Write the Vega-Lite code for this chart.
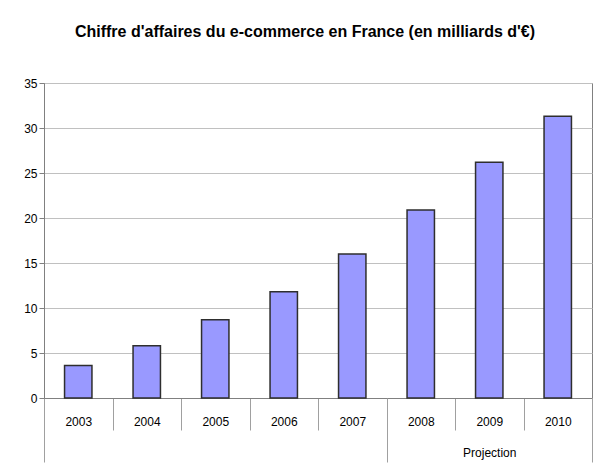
{
  "$schema": "https://vega.github.io/schema/vega-lite/v6.json",
  "autosize": "none",
  "width": 548,
  "height": 315,
  "padding": {"left": 44, "top": 83, "right": 1, "bottom": 76},
  "background": "white",
  "title": {
    "text": "Chiffre d'affaires du e-commerce en France (en milliards d'€)",
    "font": "Liberation Sans",
    "fontSize": 16,
    "fontWeight": "bold",
    "color": "black",
    "anchor": "middle",
    "dx": -13,
    "offset": 37
  },
  "config": {
    "view": {"stroke": "#808080", "strokeWidth": 1},
    "axis": {"labelFont": "Liberation Sans", "labelFontSize": 12, "labelColor": "black"}
  },
  "layer": [
    {
      "data": {"values": [
        {"annee": "2003", "ca": 3.6},
        {"annee": "2004", "ca": 5.8},
        {"annee": "2005", "ca": 8.7},
        {"annee": "2006", "ca": 11.8},
        {"annee": "2007", "ca": 16.0},
        {"annee": "2008", "ca": 20.9},
        {"annee": "2009", "ca": 26.2},
        {"annee": "2010", "ca": 31.3}
      ]},
      "mark": {"type": "bar", "fill": "#9999ff", "stroke": "#2e2e2e", "strokeWidth": 1.5, "width": {"band": 0.4}},
      "encoding": {
        "x": {
          "field": "annee", "type": "ordinal",
          "scale": {"paddingInner": 0, "paddingOuter": 0},
          "axis": {
            "title": null, "labelAngle": 0, "tickBand": "extent",
            "tickSize": 32, "tickColor": "#a0a0a0", "domainColor": "#808080",
            "labelPadding": -14
          }
        },
        "y": {
          "field": "ca", "type": "quantitative",
          "scale": {"domain": [0, 35]},
          "axis": {
            "title": null, "values": [0, 5, 10, 15, 20, 25, 30, 35],
            "tickSize": 5, "tickColor": "#808080", "domainColor": "#808080",
            "gridColor": "#c0c0c0", "labelPadding": 2
          }
        }
      }
    },
    {
      "data": {"values": [
        {"periode": "", "debut": 0, "fin": 5},
        {"periode": "Projection", "debut": 5, "fin": 8}
      ]},
      "mark": {"type": "rect", "opacity": 0},
      "encoding": {
        "x": {
          "field": "debut", "type": "quantitative",
          "scale": {"domain": [0, 8], "nice": false, "zero": false},
          "axis": {
            "orient": "bottom",
            "title": null, "values": [0, 5, 6.5, 8], "grid": false, "domain": false,
            "tickSize": 64, "tickColor": "#a0a0a0",
            "tickOpacity": {"condition": {"test": "datum.value === 6.5", "value": 0}, "value": 1},
            "labelExpr": "datum.value === 6.5 ? 'Projection' : ''",
            "labelPadding": -15
          }
        },
        "x2": {"field": "fin"}
      }
    }
  ],
  "resolve": {"scale": {"x": "independent"}, "axis": {"x": "independent"}}
}
